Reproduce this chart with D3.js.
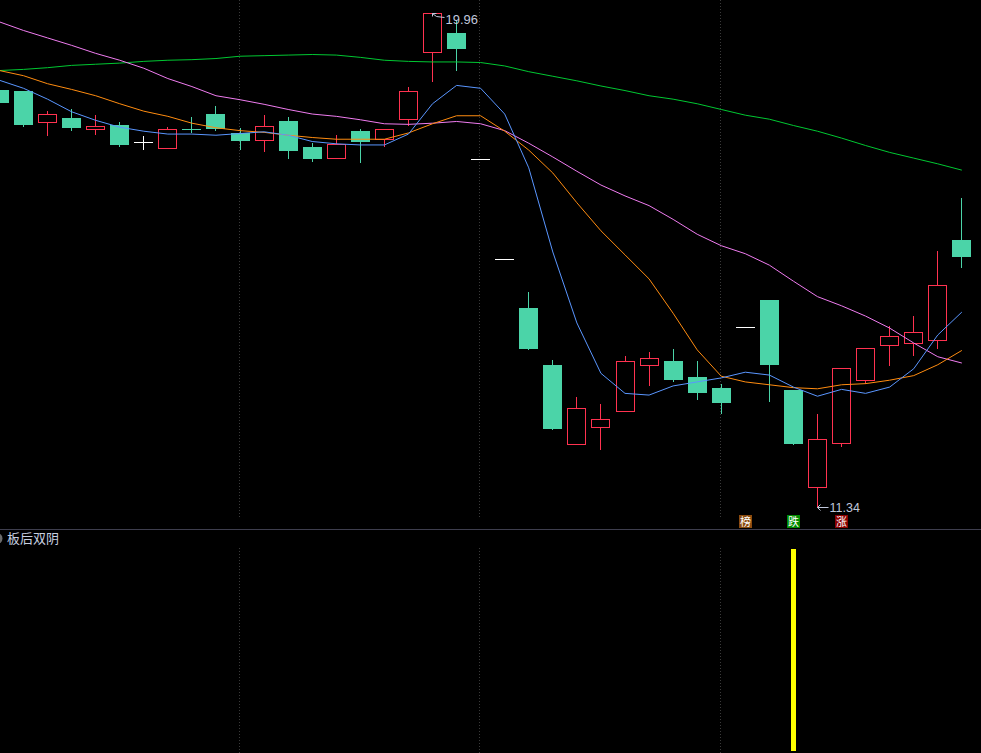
<!DOCTYPE html>
<html>
<head>
<meta charset="utf-8">
<script src="https://cdn.jsdelivr.net/npm/d3@7/dist/d3.min.js"></script>
<style>
  html, body { margin: 0; padding: 0; background: #000; }
  svg { display: block; }
</style>
</head>
<body>
<svg id="chart" width="981" height="753"></svg>
<script>
// ---------------- DATA ----------------
const days = d3.range(41);
const opens  = [18.62,18.60,18.06,18.13,17.94,18.01,17.71,17.61,17.93,18.20,17.87,17.74,18.08,17.62,17.44,17.90,17.76,18.11,19.28,19.62,17.41,15.67,14.81,13.82,12.43,12.73,13.01,13.81,13.89,13.61,13.41,14.48,14.95,13.38,11.68,12.45,13.55,14.16,14.20,14.26,16.00];
const highs  = [18.62,18.60,18.25,18.29,18.18,18.06,17.82,17.97,18.15,18.34,17.96,18.18,18.15,17.69,17.83,17.94,17.93,18.67,19.96,19.85,17.41,15.67,15.09,13.90,13.25,13.13,13.97,14.04,14.10,13.89,13.49,14.48,14.95,13.38,12.96,13.77,14.11,14.50,14.67,15.81,16.73];
const lows   = [18.40,17.99,17.83,17.92,17.85,17.64,17.59,17.61,17.89,17.92,17.59,17.55,17.43,17.38,17.44,17.36,17.65,18.00,18.77,18.97,17.41,15.67,14.10,12.69,12.43,12.34,13.01,13.47,13.54,13.23,12.98,14.48,13.19,12.44,11.34,12.40,13.50,13.82,13.99,14.12,15.52];
const closes = [18.40,18.01,18.20,17.96,17.99,17.66,17.71,17.93,17.92,17.94,17.73,17.99,17.55,17.41,17.67,17.72,17.93,18.60,19.96,19.34,17.41,15.67,14.10,12.69,13.06,12.87,13.88,13.93,13.56,13.33,13.16,14.48,13.82,12.44,12.52,13.77,14.11,14.32,14.39,15.21,15.71];

const ma5  = [18.79,18.65,18.46,18.24,18.09,17.97,17.90,17.85,17.85,17.83,17.86,17.89,17.83,17.72,17.68,17.66,17.66,17.85,18.38,18.70,18.65,18.20,17.26,15.79,14.55,13.67,13.32,13.29,13.45,13.52,13.59,13.69,13.64,13.43,13.27,13.39,13.32,13.43,13.75,14.34,14.74];
const ma10 = [18.96,18.87,18.73,18.63,18.52,18.38,18.25,18.16,18.04,17.96,17.91,17.88,17.83,17.79,17.76,17.76,17.76,17.87,18.03,18.17,18.17,17.90,17.57,17.17,16.65,16.16,15.74,15.32,14.72,14.08,13.62,13.52,13.47,13.42,13.40,13.47,13.49,13.55,13.63,13.82,14.07];
const ma20 = [19.81,19.66,19.53,19.40,19.26,19.14,19.00,18.82,18.68,18.52,18.45,18.37,18.28,18.20,18.16,18.10,18.03,18.02,18.04,18.07,18.03,17.91,17.69,17.45,17.20,16.96,16.77,16.60,16.36,16.10,15.90,15.76,15.56,15.28,15.01,14.85,14.67,14.46,14.20,13.96,13.85];
const ma60 = [18.96,18.98,19.01,19.05,19.07,19.09,19.12,19.14,19.15,19.17,19.21,19.22,19.23,19.24,19.23,19.19,19.14,19.12,19.11,19.11,19.10,19.04,18.94,18.86,18.78,18.69,18.61,18.52,18.46,18.38,18.28,18.18,18.11,18.00,17.90,17.78,17.65,17.53,17.43,17.33,17.22];

const maxLabel = "19.96";
const minLabel = "11.34";
const markerDays  = [31, 33, 35];
const markerTexts = ["榜", "跌", "涨"];
const markerColors = ["#8a4a0e", "#008a00", "#8a0000"];
const indicatorName = "板后双阴";
const signal = days.map(d => d === 33 ? 1 : 0);
const gridDays = [10, 20, 30];

// ---------------- STYLE ----------------
const RED = "#ff3250", GREEN = "#4bd4a8";
const MA_COLORS = ["#5a96ff", "#ff8c10", "#f07cf0", "#00c832"];

const svg = d3.select("#chart");
const W = 981, H = 753;
svg.append("rect").attr("width", W).attr("height", H).attr("fill", "#000");

const x = d3.scaleLinear().domain([0, 40]).range([-0.56, 961.84]);
const y = d3.scaleLinear().domain([11.34, 19.96]).range([506.7, 13.3]);
const ySig = d3.scaleLinear().domain([0, 1]).range([751, 549]);
const py = v => Math.round(y(v));

// grid lines
const grid = svg.append("g");
gridDays.forEach(d => {
  const gx = Math.floor(x(d)) - 0.5;
  grid.append("line").attr("x1", gx).attr("x2", gx).attr("y1", 0).attr("y2", 518)
    .attr("stroke", "#3a3a3a").attr("stroke-dasharray", "1,2");
  grid.append("line").attr("x1", gx).attr("x2", gx).attr("y1", 548).attr("y2", H)
    .attr("stroke", "#3a3a3a").attr("stroke-dasharray", "1,2");
});

// separator
svg.append("line").attr("x1", 0).attr("x2", W).attr("y1", 529.5).attr("y2", 529.5)
  .attr("stroke", "#3e3e4e").attr("stroke-width", 1);

// candles
const cg = svg.append("g").attr("shape-rendering", "crispEdges");
days.forEach(i => {
  const o = opens[i], c = closes[i], h = highs[i], l = lows[i];
  const cx = Math.floor(x(i));
  if (c > o) {
    cg.append("line").attr("x1", cx + 0.5).attr("x2", cx + 0.5).attr("y1", py(h)).attr("y2", py(c)).attr("stroke", RED);
    cg.append("line").attr("x1", cx + 0.5).attr("x2", cx + 0.5).attr("y1", py(o)).attr("y2", py(l) + 1).attr("stroke", RED);
    cg.append("rect").attr("x", cx - 9 + 0.5).attr("y", py(c) + 0.5).attr("width", 18)
      .attr("height", Math.max(1, py(o) - py(c))).attr("fill", "#000").attr("stroke", RED);
  } else if (c < o) {
    cg.append("line").attr("x1", cx + 0.5).attr("x2", cx + 0.5).attr("y1", py(h)).attr("y2", py(l) + 1).attr("stroke", GREEN);
    cg.append("rect").attr("x", cx - 9).attr("y", py(o)).attr("width", 19)
      .attr("height", Math.max(1, py(c) - py(o))).attr("fill", GREEN);
  } else {
    const col = "#ffffff";
    if (h > l) cg.append("line").attr("x1", cx + 0.5).attr("x2", cx + 0.5).attr("y1", py(h)).attr("y2", py(l) + 1).attr("stroke", col);
    cg.append("line").attr("x1", cx - 9).attr("x2", cx + 10).attr("y1", py(c) + 0.5).attr("y2", py(c) + 0.5).attr("stroke", col);
  }
});

// moving averages
const line = d3.line().x((d, i) => x(i)).y(d => y(d));
[[ma60, MA_COLORS[3]], [ma20, MA_COLORS[2]], [ma10, MA_COLORS[1]], [ma5, MA_COLORS[0]]].forEach(([arr, col]) => {
  svg.append("path").attr("d", line(arr)).attr("fill", "none").attr("stroke", col).attr("stroke-width", 1);
});

// max / min labels
const labelFont = "'Liberation Sans', Arial, sans-serif";
const hiI = highs.indexOf(d3.max(highs));
const loI = lows.indexOf(d3.min(lows));
{
  const ax = Math.floor(x(hiI)) + 0.5, ay = py(highs[hiI]) + 0.5;
  svg.append("path").attr("d", `M${ax},${ay} L${ax + 4},${ay + 3} L${ax + 12},${ay + 4} M${ax},${ay} L${ax + 4},${ay} M${ax},${ay} L${ax},${ay + 3}`)
    .attr("stroke", "#c0c8dc").attr("fill", "none");
  svg.append("text").attr("x", ax + 13).attr("y", ay + 10).text(maxLabel)
    .attr("fill", "#c0c8dc").attr("font-family", labelFont).attr("font-size", 13);
}
{
  const ax = Math.floor(x(loI)) + 0.5, ay = py(lows[loI]) + 0.5;
  svg.append("path").attr("d", `M${ax},${ay} L${ax + 11},${ay} M${ax},${ay} L${ax + 3},${ay - 3} M${ax},${ay} L${ax + 3},${ay + 3}`)
    .attr("stroke", "#c0c8dc").attr("fill", "none");
  svg.append("text").attr("x", ax + 12).attr("y", ay + 4).text(minLabel)
    .attr("fill", "#c0c8dc").attr("font-family", labelFont).attr("font-size", 12.5);
}

// markers
markerDays.forEach((d, k) => {
  const mx = Math.floor(x(d)) - 6;
  svg.append("rect").attr("x", mx).attr("y", 515).attr("width", 13).attr("height", 13).attr("fill", markerColors[k]);
  svg.append("text").attr("x", mx + 6.5).attr("y", 526).attr("text-anchor", "middle").text(markerTexts[k])
    .attr("fill", "#fff").attr("font-family", "'Noto Sans CJK SC', sans-serif").attr("font-size", 11);
});

// indicator panel
svg.append("circle").attr("cx", -3).attr("cy", 538.5).attr("r", 5.5).attr("fill", "#6a6a6a");
svg.append("text").attr("x", 7).attr("y", 543).text(indicatorName)
  .attr("fill", "#c8d0e0").attr("font-family", "'Noto Sans CJK SC', sans-serif").attr("font-size", 13);
days.forEach(i => {
  if (signal[i] > 0) {
    const cx = Math.floor(x(i));
    svg.append("rect").attr("x", cx - 2).attr("y", ySig(signal[i])).attr("width", 5)
      .attr("height", ySig(0) - ySig(signal[i])).attr("fill", "#ffff00");
  }
});
</script>
</body>
</html>
